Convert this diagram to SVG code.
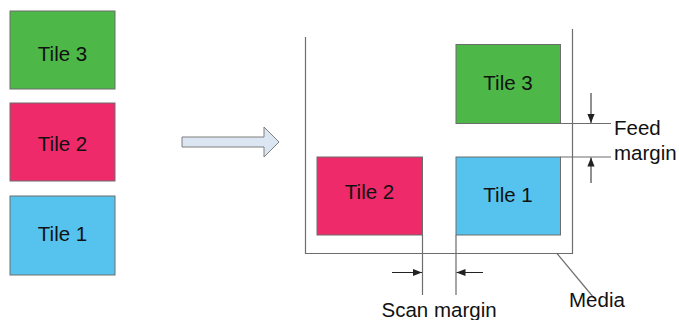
<svg xmlns="http://www.w3.org/2000/svg" width="679" height="320" viewBox="0 0 679 320">
<style>
.tile{stroke:#6d6d6d;stroke-width:1}
.t3{fill:#4db848}.t2{fill:#ee2a6b}.t1{fill:#56c3ef}
text{font-family:"Liberation Sans",Arial,sans-serif;font-size:20.5px;fill:#111}
.lbl{text-anchor:middle}
.ln{stroke:#6d6d6d;stroke-width:1.2;fill:none}
.ar{stroke:#222;stroke-width:1;fill:none}
</style>
<defs>
<marker id="ah" viewBox="0 0 10 10" refX="10" refY="5" markerWidth="9" markerHeight="9" markerUnits="userSpaceOnUse" orient="auto">
<path d="M0,1 L10,5 L0,9 z" fill="#222"/>
</marker>
</defs>
<g id="tile3-left"><rect class="tile t3" x="10" y="11" width="105" height="78"/><text class="lbl" x="62.5" y="61">Tile 3</text></g>
<g id="tile2-left"><rect class="tile t2" x="10" y="103" width="105" height="78"/><text class="lbl" x="62.5" y="151">Tile 2</text></g>
<g id="tile1-left"><rect class="tile t1" x="10" y="196" width="105" height="79"/><text class="lbl" x="62.5" y="241">Tile 1</text></g>
<g id="big-arrow"><path d="M182,137 L264,137 L264,127 L279,142 L264,157 L264,147 L182,147 Z" fill="#dce6f2" stroke="#7f7f7f" stroke-width="1"/></g>
<g id="media"><path class="ln" d="M305.5,37 L305.5,253.5 L572.5,253.5 L572.5,29"/></g>
<g id="tile3-right"><rect class="tile t3" x="456" y="44.5" width="104.5" height="79"/><text class="lbl" x="508" y="90">Tile 3</text></g>
<g id="tile2-right"><rect class="tile t2" x="317" y="157" width="105.5" height="78"/><text class="lbl" x="369.5" y="199">Tile 2</text></g>
<g id="tile1-right"><rect class="tile t1" x="456" y="157" width="104.5" height="78"/><text class="lbl" x="508" y="201.5">Tile 1</text></g>
<g id="connectors">
<path class="ln" d="M560.5,123.5 L611,123.5 M560.5,157 L611,157"/>
<path class="ar" d="M591,93 L591,123" marker-end="url(#ah)"/>
<path class="ar" d="M591,183 L591,157.5" marker-end="url(#ah)"/>
<path class="ln" d="M422.5,235 L422.5,295 M456,235 L456,295"/>
<path class="ar" d="M392,272.5 L422,272.5" marker-end="url(#ah)"/>
<path class="ar" d="M483,272.5 L456.5,272.5" marker-end="url(#ah)"/>
<path class="ln" d="M557,253.5 L594,298"/>
</g>
<g id="labels">
<text x="614" y="135">Feed</text>
<text x="614" y="160">margin</text>
<text x="381.5" y="317">Scan margin</text>
<text x="569" y="307">Media</text>
</g>
</svg>
